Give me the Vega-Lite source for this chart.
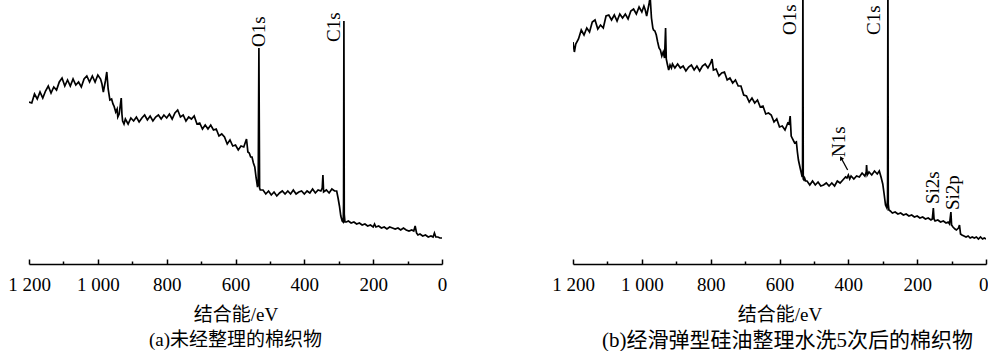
{
  "$schema": "https://vega.github.io/schema/vega-lite/v6.json",
  "padding": {"left": 7, "top": 0, "right": 0, "bottom": 0},
  "background": "white",
  "spacing": 131,
  "bounds": "flush",
  "config": {"view": {"stroke": null}, "font": "Liberation Serif"},
  "datasets": {
    "a": [
      {"eV":1200,"I":162},{"eV":1192,"I":161},{"eV":1184,"I":170},{"eV":1176,"I":165},{"eV":1168,"I":172},{"eV":1160,"I":166},{"eV":1152,"I":173},{"eV":1144,"I":178},{"eV":1136,"I":171},{"eV":1128,"I":177},{"eV":1120,"I":174},{"eV":1112,"I":182},{"eV":1104,"I":186},{"eV":1096,"I":178},{"eV":1088,"I":184},{"eV":1080,"I":178},{"eV":1072,"I":185},{"eV":1064,"I":179},{"eV":1056,"I":182},{"eV":1048,"I":177},{"eV":1040,"I":185},{"eV":1032,"I":188},{"eV":1024,"I":182},{"eV":1016,"I":188},{"eV":1008,"I":182},{"eV":1000,"I":189},{"eV":992,"I":185},{"eV":988,"I":180},{"eV":984,"I":172},{"eV":978,"I":183},{"eV":974,"I":192},{"eV":970,"I":175},{"eV":965,"I":164},{"eV":960,"I":165},{"eV":956,"I":160},{"eV":953,"I":158},{"eV":948,"I":152},{"eV":944,"I":155},{"eV":942,"I":147},{"eV":938,"I":150},{"eV":935,"I":158},{"eV":932,"I":166},{"eV":930,"I":150},{"eV":928,"I":143},{"eV":924,"I":140},{"eV":920,"I":145},
      {"eV":912,"I":140},{"eV":904,"I":146},{"eV":896,"I":143},{"eV":888,"I":147},{"eV":880,"I":142},{"eV":872,"I":146},{"eV":864,"I":149},{"eV":856,"I":144},{"eV":848,"I":148},{"eV":840,"I":143},{"eV":832,"I":147},{"eV":824,"I":149},{"eV":816,"I":145},{"eV":808,"I":149},{"eV":800,"I":146},{"eV":792,"I":150},{"eV":784,"I":145},{"eV":776,"I":151},{"eV":768,"I":154},{"eV":760,"I":147},{"eV":752,"I":149},{"eV":744,"I":143},{"eV":736,"I":147},{"eV":728,"I":145},{"eV":720,"I":148},{"eV":712,"I":140},{"eV":704,"I":141},{"eV":696,"I":135},{"eV":688,"I":139},{"eV":680,"I":135},{"eV":672,"I":139},{"eV":664,"I":134},{"eV":656,"I":135},{"eV":648,"I":128},{"eV":640,"I":130},{"eV":632,"I":127},{"eV":624,"I":120},{"eV":616,"I":124},{"eV":608,"I":118},{"eV":600,"I":119},{"eV":592,"I":114},{"eV":584,"I":118},{"eV":576,"I":117},{"eV":568,"I":125},{"eV":564,"I":112},{"eV":560,"I":111},{"eV":556,"I":107},{"eV":552,"I":107},{"eV":548,"I":101},{"eV":544,"I":97},{"eV":540,"I":86},{"eV":536,"I":77},{"eV":534,"I":80},{"eV":532,"I":216},{"eV":530,"I":76},{"eV":528,"I":74},
      {"eV":520,"I":74},{"eV":512,"I":70},{"eV":504,"I":73},{"eV":496,"I":69},{"eV":488,"I":72},{"eV":480,"I":68},{"eV":472,"I":71},{"eV":464,"I":73},{"eV":456,"I":70},{"eV":448,"I":73},{"eV":440,"I":70},{"eV":432,"I":74},{"eV":424,"I":70},{"eV":416,"I":72},{"eV":408,"I":73},{"eV":400,"I":70},{"eV":392,"I":73},{"eV":384,"I":71},{"eV":376,"I":75},{"eV":368,"I":71},{"eV":360,"I":74},{"eV":352,"I":73},{"eV":348,"I":76},{"eV":346,"I":89},{"eV":344,"I":72},{"eV":336,"I":74},{"eV":328,"I":71},{"eV":320,"I":75},{"eV":312,"I":73},{"eV":306,"I":73},{"eV":302,"I":66},{"eV":298,"I":58},{"eV":294,"I":48},{"eV":290,"I":43},{"eV":287,"I":42},{"eV":286,"I":60},{"eV":285,"I":243},{"eV":284,"I":50},{"eV":282,"I":42},
      {"eV":278,"I":42},{"eV":272,"I":43},{"eV":264,"I":41},{"eV":256,"I":42},{"eV":248,"I":40},{"eV":240,"I":41},{"eV":232,"I":39},{"eV":224,"I":40},{"eV":216,"I":38},{"eV":208,"I":39},{"eV":200,"I":37},{"eV":196,"I":40},{"eV":192,"I":37},{"eV":184,"I":38},{"eV":176,"I":36},{"eV":168,"I":37},{"eV":160,"I":35},{"eV":152,"I":37},{"eV":144,"I":36},{"eV":136,"I":35},{"eV":128,"I":36},{"eV":120,"I":34},{"eV":112,"I":36},{"eV":104,"I":34},{"eV":96,"I":33},{"eV":88,"I":34},{"eV":82,"I":33},{"eV":78,"I":38},{"eV":74,"I":31},{"eV":70,"I":29},{"eV":64,"I":30},{"eV":56,"I":28},{"eV":48,"I":29},{"eV":40,"I":27},{"eV":32,"I":28},{"eV":26,"I":27},{"eV":22,"I":31},{"eV":18,"I":27},{"eV":12,"I":27},{"eV":6,"I":26},{"eV":0,"I":26}
    ],
    "b": [
      {"eV":1200,"I":222},{"eV":1196,"I":212},{"eV":1192,"I":220},{"eV":1184,"I":225},{"eV":1176,"I":234},{"eV":1168,"I":229},{"eV":1160,"I":236},{"eV":1152,"I":232},{"eV":1144,"I":242},{"eV":1136,"I":244},{"eV":1128,"I":235},{"eV":1120,"I":239},{"eV":1112,"I":236},{"eV":1104,"I":248},{"eV":1096,"I":249},{"eV":1088,"I":244},{"eV":1080,"I":249},{"eV":1072,"I":243},{"eV":1064,"I":250},{"eV":1056,"I":246},{"eV":1048,"I":250},{"eV":1040,"I":245},{"eV":1032,"I":253},{"eV":1024,"I":255},{"eV":1016,"I":250},{"eV":1008,"I":257},{"eV":1000,"I":252},{"eV":994,"I":258},{"eV":990,"I":254},{"eV":986,"I":248},{"eV":982,"I":255},{"eV":978,"I":262},{"eV":976,"I":268},{"eV":972,"I":246},{"eV":968,"I":236},{"eV":966,"I":234},{"eV":962,"I":233},{"eV":958,"I":229},{"eV":954,"I":222},{"eV":950,"I":216},{"eV":946,"I":214},{"eV":942,"I":208},{"eV":938,"I":212},{"eV":934,"I":206},{"eV":931,"I":236},{"eV":929,"I":205},{"eV":926,"I":200},{"eV":922,"I":194},{"eV":918,"I":199},{"eV":914,"I":196},{"eV":911,"I":200},
      {"eV":904,"I":196},{"eV":896,"I":200},{"eV":888,"I":196},{"eV":880,"I":198},{"eV":872,"I":193},{"eV":864,"I":197},{"eV":856,"I":199},{"eV":848,"I":194},{"eV":840,"I":198},{"eV":832,"I":193},{"eV":824,"I":198},{"eV":816,"I":200},{"eV":808,"I":196},{"eV":800,"I":201},{"eV":796,"I":205},{"eV":792,"I":194},{"eV":784,"I":195},{"eV":776,"I":188},{"eV":768,"I":191},{"eV":760,"I":192},{"eV":752,"I":184},{"eV":744,"I":186},{"eV":736,"I":181},{"eV":728,"I":184},{"eV":720,"I":178},{"eV":712,"I":178},{"eV":704,"I":169},{"eV":696,"I":168},{"eV":688,"I":162},{"eV":680,"I":166},{"eV":672,"I":161},{"eV":664,"I":164},{"eV":656,"I":157},{"eV":648,"I":158},{"eV":640,"I":150},{"eV":632,"I":151},{"eV":624,"I":149},{"eV":616,"I":142},{"eV":608,"I":145},{"eV":600,"I":137},{"eV":592,"I":138},{"eV":584,"I":134},{"eV":576,"I":141},{"eV":572,"I":140},{"eV":569,"I":148},{"eV":566,"I":128},{"eV":562,"I":125},{"eV":556,"I":121},{"eV":551,"I":122},{"eV":548,"I":112},{"eV":545,"I":104},{"eV":540,"I":96},{"eV":536,"I":90},{"eV":534,"I":87},{"eV":533,"I":90},{"eV":532,"I":290},{"eV":531,"I":85},{"eV":529,"I":84},{"eV":527,"I":86},{"eV":524,"I":83},
      {"eV":520,"I":83},{"eV":512,"I":79},{"eV":504,"I":83},{"eV":496,"I":79},{"eV":488,"I":82},{"eV":480,"I":78},{"eV":472,"I":79},{"eV":464,"I":81},{"eV":456,"I":78},{"eV":448,"I":81},{"eV":440,"I":78},{"eV":432,"I":83},{"eV":424,"I":81},{"eV":416,"I":84},{"eV":408,"I":87},{"eV":404,"I":86},{"eV":400,"I":89},{"eV":396,"I":85},{"eV":392,"I":88},{"eV":384,"I":85},{"eV":376,"I":88},{"eV":368,"I":87},{"eV":360,"I":91},{"eV":352,"I":88},{"eV":348,"I":92},{"eV":347,"I":99},{"eV":345,"I":89},{"eV":340,"I":92},{"eV":332,"I":89},{"eV":324,"I":93},{"eV":316,"I":90},{"eV":310,"I":93},{"eV":305,"I":87},{"eV":300,"I":80},{"eV":296,"I":70},{"eV":292,"I":59},{"eV":288,"I":56},{"eV":286,"I":65},{"eV":285,"I":290},{"eV":284,"I":60},{"eV":282,"I":54},
      {"eV":278,"I":53},{"eV":272,"I":51},{"eV":264,"I":52},{"eV":256,"I":50},{"eV":248,"I":51},{"eV":240,"I":49},{"eV":232,"I":50},{"eV":224,"I":48},{"eV":216,"I":49},{"eV":208,"I":47},{"eV":200,"I":48},{"eV":192,"I":46},{"eV":184,"I":47},{"eV":176,"I":45},{"eV":168,"I":46},{"eV":160,"I":44},{"eV":156,"I":45},{"eV":153,"I":56},{"eV":151,"I":45},{"eV":148,"I":43},{"eV":140,"I":44},{"eV":132,"I":42},{"eV":124,"I":43},{"eV":116,"I":41},{"eV":110,"I":42},{"eV":106,"I":40},{"eV":102,"I":52},{"eV":100,"I":39},{"eV":96,"I":37},{"eV":90,"I":35},{"eV":86,"I":34},{"eV":80,"I":36},{"eV":77,"I":39},{"eV":74,"I":30},{"eV":70,"I":29},{"eV":64,"I":28},{"eV":58,"I":27},{"eV":52,"I":28},{"eV":46,"I":26},{"eV":40,"I":27},{"eV":34,"I":26},{"eV":28,"I":27},{"eV":22,"I":25},{"eV":16,"I":27},{"eV":10,"I":25},{"eV":5,"I":26},{"eV":0,"I":25}
    ],
    "la": [
      {"eV":532,"I":217,"label":"O1s"},
      {"eV":313,"I":222,"label":"C1s"}
    ],
    "lb": [
      {"eV":569,"I":229,"label":"O1s"},
      {"eV":326,"I":229,"label":"C1s"},
      {"eV":426,"I":107,"label":"N1s"},
      {"eV":153,"I":60,"label":"Si2s"},
      {"eV":97,"I":54,"label":"Si2p"}
    ],
    "arrow": [
      {"eV":421,"I":106,"eV2":402,"I2":94}
    ]
  },
  "hconcat": [
    {
      "width": 413,
      "height": 264,
      "title": {"text": "(a)未经整理的棉织物", "orient": "bottom", "font": "Liberation Serif, Noto Sans CJK SC", "fontSize": 19, "fontWeight": "normal", "color": "black", "offset": 7},
      "encoding": {
        "x": {
          "field": "eV", "type": "quantitative",
          "scale": {"domain": [0, 1200], "reverse": true, "nice": false, "zero": false},
          "axis": {
            "values": [0,100,200,300,400,500,600,700,800,900,1000,1100,1200],
            "labelExpr": "datum.value % 200 === 0 ? replace(format(datum.value, ','), ',', ' ') : ''",
            "tickSize": {"condition": {"test": "datum.value % 200 === 0", "value": -5}, "value": -3},
            "grid": false, "domainColor": "black", "domainWidth": 1.5, "tickColor": "black", "tickWidth": 1.5,
            "labelFont": "Liberation Serif", "labelFontSize": 19, "labelColor": "black", "labelPadding": 16,
            "labelFlush": false, "labelOverlap": false,
            "title": "结合能/eV", "titleFont": "Liberation Serif, Noto Sans CJK SC", "titleFontSize": 19, "titleFontWeight": "normal", "titleColor": "black", "titlePadding": 9
          }
        },
        "y": {"field": "I", "type": "quantitative", "scale": {"domain": [0, 264], "nice": false, "zero": false}, "axis": null}
      },
      "layer": [
        {"data": {"name": "a"}, "mark": {"type": "line", "color": "black", "strokeWidth": 1.7, "clip": true}},
        {"data": {"name": "la"}, "mark": {"type": "text", "angle": 270, "align": "left", "baseline": "middle", "font": "Liberation Serif", "fontSize": 19, "color": "black"}, "encoding": {"text": {"field": "label"}}}
      ]
    },
    {
      "width": 413,
      "height": 264,
      "title": {"text": "(b)经滑弹型硅油整理水洗5次后的棉织物", "orient": "bottom", "font": "Liberation Serif, Noto Sans CJK SC", "fontSize": 21, "fontWeight": "normal", "color": "black", "offset": 6, "dx": 8},
      "encoding": {
        "x": {
          "field": "eV", "type": "quantitative",
          "scale": {"domain": [0, 1200], "reverse": true, "nice": false, "zero": false},
          "axis": {
            "values": [0,100,200,300,400,500,600,700,800,900,1000,1100,1200],
            "labelExpr": "datum.value % 200 === 0 ? replace(format(datum.value, ','), ',', ' ') : ''",
            "tickSize": {"condition": {"test": "datum.value % 200 === 0", "value": -5}, "value": -3},
            "labelAlign": {"condition": {"test": "datum.value === 0", "value": "right"}, "value": "center"},
            "labelOffset": {"condition": {"test": "datum.value === 0", "value": 2}, "value": 0},
            "grid": false, "domainColor": "black", "domainWidth": 1.5, "tickColor": "black", "tickWidth": 1.5,
            "labelFont": "Liberation Serif", "labelFontSize": 19, "labelColor": "black", "labelPadding": 16,
            "labelFlush": false, "labelOverlap": false,
            "title": "结合能/eV", "titleFont": "Liberation Serif, Noto Sans CJK SC", "titleFontSize": 19, "titleFontWeight": "normal", "titleColor": "black", "titlePadding": 9
          }
        },
        "y": {"field": "I", "type": "quantitative", "scale": {"domain": [0, 264], "nice": false, "zero": false}, "axis": null}
      },
      "layer": [
        {"data": {"name": "b"}, "mark": {"type": "line", "color": "black", "strokeWidth": 1.7, "clip": true}},
        {"data": {"name": "lb"}, "mark": {"type": "text", "angle": 270, "align": "left", "baseline": "middle", "font": "Liberation Serif", "fontSize": 19, "color": "black"}, "encoding": {"text": {"field": "label"}}},
        {"data": {"name": "arrow"}, "mark": {"type": "rule", "color": "black", "strokeWidth": 1.3}, "encoding": {"x2": {"field": "eV2"}, "y2": {"field": "I2"}}},
        {"data": {"name": "arrow"}, "mark": {"type": "point", "shape": "triangle-up", "filled": true, "color": "black", "size": 22, "angle": 331, "opacity": 1}}
      ]
    }
  ]
}
